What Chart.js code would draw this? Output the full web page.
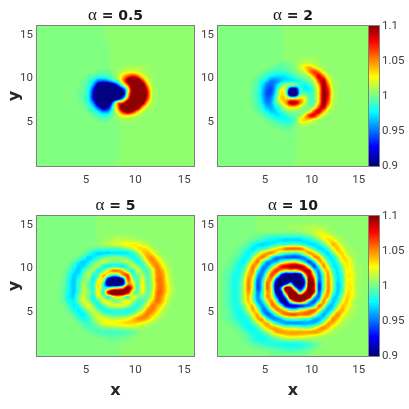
<!DOCTYPE html>
<html>
<head>
<meta charset="utf-8">
<title>alpha spirals</title>
<script src="https://cdn.jsdelivr.net/npm/chart.js@4/dist/chart.umd.min.js"></script>
<style>
  html, body { margin: 0; padding: 0; background: #fff; }
  canvas { position: absolute; left: 0; top: 0; }
</style>
</head>
<body>
<canvas id="p1" width="409" height="409"></canvas>
<canvas id="p2" width="409" height="409"></canvas>
<canvas id="p3" width="409" height="409"></canvas>
<canvas id="p4" width="409" height="409"></canvas>
<canvas id="cb1" width="409" height="409"></canvas>
<canvas id="cb2" width="409" height="409"></canvas>
<script>
// cell centres of the 32x32 grid, rows run top to bottom
const X_CENTERS = [.25,.75,1.25,1.75,2.25,2.75,3.25,3.75,4.25,4.75,5.25,5.75,6.25,6.75,7.25,7.75,8.25,8.75,9.25,9.75,10.25,10.75,11.25,11.75,12.25,12.75,13.25,13.75,14.25,14.75,15.25,15.75];
const Y_CENTERS = [15.75,15.25,14.75,14.25,13.75,13.25,12.75,12.25,11.75,11.25,10.75,10.25,9.75,9.25,8.75,8.25,7.75,7.25,6.75,6.25,5.75,5.25,4.75,4.25,3.75,3.25,2.75,2.25,1.75,1.25,.75,.25];
const AXIS_TICKS = [5, 10, 15];
const COLORBAR_TICKS = [0.9, 0.95, 1, 1.05, 1.1];
const TITLES = ["= 0.5", "= 2", "= 5", "= 10"];

// cell values, as (value - 1) * 100
const FIELD_05 = [
[0,0,0,0,0,0,0,0, 0,0,0,0,0,0,.4,.4, .4,.4,.4,.4,.4,.4,.4,.4, .4,.4,.4,.4,.4,.4,.4,.4],
[0,0,0,0,0,0,0,0, 0,0,0,0,0,0,.4,.4, .4,.4,.4,.4,.4,.4,.4,.4, .4,.4,.4,.4,.4,.4,.4,.4],
[0,0,0,0,0,0,0,0, 0,0,0,0,0,0,.4,.4, .4,.4,.4,.4,.4,.4,.4,.4, .4,.4,.4,.4,.4,.4,.4,.4],
[0,0,0,0,0,0,0,0, 0,0,0,0,0,0,.4,.4, .4,.4,.4,.4,.4,.4,.4,.4, .4,.4,.4,.4,.4,.4,.4,.4],
[0,0,0,0,0,0,0,0, 0,0,0,0,0,0,0,.4, .4,.4,.4,.4,.4,.4,.4,.4, .4,.4,.4,.4,.4,.4,.4,.4],
[0,0,0,0,0,0,0,0, 0,0,0,0,0,0,0,.4, .4,.4,.4,.4,.4,.4,.4,.4, .4,.4,.4,.4,.4,.4,.4,.4],
[0,0,0,0,0,0,0,0, 0,0,0,0,0,0,0,.4, .4,.4,.4,.4,.4,.4,.4,.4, .4,.4,.4,.4,.4,.4,.4,.4],
[0,0,0,0,0,0,0,0, 0,0,0,0,0,0,0,.4, .4,.4,.4,.4,.4,.4,.4,.4, .4,.4,.4,.4,.4,.4,.4,.4],
[0,0,0,0,0,0,0,0, 0,0,0,0,0,0,0,.4, .4,.4,.4,.4,.4,.4,.4,.4, .4,.4,.4,.4,.4,.4,.4,.4],
[0,0,0,0,0,0,0,0, 0,0,0,0,0,0,0,.4, .4,.7,.8,.9,.9,.8,.6,.4, .4,.4,.4,.4,.4,.4,.4,.4],
[0,0,0,0,0,0,0,0, 0,0,0,0,-.5,-.6,-.5,0, .6,1.2,2,2.3,1.8,1,.6,.4, .4,.4,.4,.4,.4,.4,.4,.4],
[0,0,0,0,0,0,0,0, 0,0,-.6,-1,-1.5,-1.5,-1,-.3, 1,3.5,6,7.5,6,2.5,1,.6, .4,.4,.4,.4,.4,.4,.4,.4],
[0,0,0,0,0,0,0,0, 0,-.4,-1,-2.5,-5,-5.5,-4.5,-2.5, 0,4,10,13,12,7,2,.8, .4,.4,.4,.4,.4,.4,.4,.4],
[0,0,0,0,0,0,0,0, 0,-.6,-1.5,-4.5,-10,-13,-12,-10, -6,0,6,13,14,12,4.5,1, .4,.4,.4,.4,.4,.4,.4,.4],
[0,0,0,0,0,0,0,0, -.3,-.7,-2,-7,-13,-14,-14,-14, -12,-8,1,11,14,14,7,1.2, .5,.4,.4,.4,.4,.4,.4,.4],
[0,0,0,0,0,0,0,0, -.3,-.8,-2.5,-8,-14,-14,-14,-14, -14,-11,2,11,14,14,8,1.3, .5,.4,.4,.4,.4,.4,.4,.4],
[0,0,0,0,0,0,0,0, -.3,-.8,-2.5,-8,-14,-14,-14,-14, -12,-5,5,13,14,14,7,1.2, .5,.4,.4,.4,.4,.4,.4,.4],
[0,0,0,0,0,0,0,0, -.2,-.6,-2,-5.5,-12,-14,-13,-5, 4,6,12,14,14,11,4,1, .4,.4,.4,.4,.4,.4,.4,.4],
[0,0,0,0,0,0,0,0, 0,-.3,-1.2,-3,-7,-11,-9,-1.5, 5,13,14,14,12,5,1.5,.6, .4,.4,.4,.4,.4,.4,.4,.4],
[0,0,0,0,0,0,0,0, 0,0,-.6,-1.5,-3,-5,-4.5,-.8, 3,8,11,8.5,4.5,1.5,.7,.4, .4,.4,.4,.4,.4,.4,.4,.4],
[0,0,0,0,0,0,0,0, 0,0,0,-.6,-1.2,-2,-1.5,-.3, 1,2.5,3,2,1,.6,.4,.4, .4,.4,.4,.4,.4,.4,.4,.4],
[0,0,0,0,0,0,0,0, 0,0,0,0,-.4,-.6,-.5,0, .4,.6,.8,.7,.5,.4,.4,.4, .4,.4,.4,.4,.4,.4,.4,.4],
[0,0,0,0,0,0,0,0, 0,0,0,0,0,0,0,0, 0,.4,.4,.4,.4,.4,.4,.4, .4,.4,.4,.4,.4,.4,.4,.4],
[0,0,0,0,0,0,0,0, 0,0,0,0,0,0,0,0, 0,.4,.4,.4,.4,.4,.4,.4, .4,.4,.4,.4,.4,.4,.4,.4],
[0,0,0,0,0,0,0,0, 0,0,0,0,0,0,0,0, 0,.4,.4,.4,.4,.4,.4,.4, .4,.4,.4,.4,.4,.4,.4,.4],
[0,0,0,0,0,0,0,0, 0,0,0,0,0,0,0,0, 0,.4,.4,.4,.4,.4,.4,.4, .4,.4,.4,.4,.4,.4,.4,.4],
[0,0,0,0,0,0,0,0, 0,0,0,0,0,0,0,0, 0,.4,.4,.4,.4,.4,.4,.4, .4,.4,.4,.4,.4,.4,.4,.4],
[0,0,0,0,0,0,0,0, 0,0,0,0,0,0,0,0, 0,.4,.4,.4,.4,.4,.4,.4, .4,.4,.4,.4,.4,.4,.4,.4],
[0,0,0,0,0,0,0,0, 0,0,0,0,0,0,0,0, 0,.4,.4,.4,.4,.4,.4,.4, .4,.4,.4,.4,.4,.4,.4,.4],
[0,0,0,0,0,0,0,0, 0,0,0,0,0,0,0,0, 0,.4,.4,.4,.4,.4,.4,.4, .4,.4,.4,.4,.4,.4,.4,.4],
[0,0,0,0,0,0,0,0, 0,0,0,0,0,0,0,0, .4,.4,.4,.4,.4,.4,.4,.4, .4,.4,.4,.4,.4,.4,.4,.4],
[0,0,0,0,0,0,0,0, 0,0,0,0,0,0,0,0, .4,.4,.4,.4,.4,.4,.4,.4, .4,.4,.4,.4,.4,.4,.4,.4]
];

const FIELD_2 = [
[0,0,0,0,0,0,0,0, 0,0,0,0,0,0,.4,.4, .4,.4,.4,.4,.4,.4,.4,.4, .4,.4,.4,.4,.4,.4,.4,.4],
[0,0,0,0,0,0,0,0, 0,0,0,0,0,0,.4,.4, .4,.4,.4,.4,.4,.4,.4,.4, .4,.4,.4,.4,.4,.4,.4,.4],
[0,0,0,0,0,0,0,0, 0,0,0,0,0,0,.4,.4, .4,.4,.4,.4,.4,.4,.4,.4, .4,.4,.4,.4,.4,.4,.4,.4],
[0,0,0,0,0,0,0,0, 0,0,0,0,0,0,.4,.4, .4,.4,.4,.4,.4,.4,.4,.4, .4,.4,.4,.4,.4,.4,.4,.4],
[0,0,0,0,0,0,0,0, 0,0,0,0,0,0,.4,.4, .4,.4,.4,.4,.4,.4,.4,.4, .4,.4,.4,.4,.4,.4,.4,.4],
[0,0,0,0,0,0,0,0, 0,0,0,0,0,0,.4,.4, .4,.4,.4,.4,.4,.4,.4,.4, .4,.4,.4,.4,.4,.4,.4,.4],
[0,0,0,0,0,0,0,0, 0,0,0,0,0,0,.4,.4, .4,.4,.4,.4,.4,.4,.4,.4, .4,.4,.4,.4,.4,.4,.4,.4],
[0,0,0,0,0,0,0,0, 0,0,0,0,0,0,.4,.4, .4,.6,.7,.8,.7,.5,.4,.4, .4,.4,.4,.4,.4,.4,.4,.4],
[0,0,0,0,0,0,0,0, 0,0,0,0,0,-.4,-.4,.1, .4,.8,1.4,1.3,.9,.6,.4,.4, .4,.4,.4,.4,.4,.4,.4,.4],
[0,0,0,0,0,0,0,0, 0,0,0,-.5,-.8,-.8,-.6,-.3, .3,1.5,3,4,3,1.4,.7,.4, .4,.4,.4,.4,.4,.4,.4,.4],
[0,0,0,0,0,0,0,0, 0,-.4,-.8,-1.2,-1.5,-1.5,-1.2,-.8, -.2,.5,1.5,4.5,6.5,5,1.8,.7, .4,.4,.4,.4,.4,.4,.4,.4],
[0,0,0,0,0,0,0,0, -.5,-1,-1.8,-2.8,-3,-3,-2.8,-2, -1,-.3,.2,1,4.5,8,5.5,1.5, .6,.4,.4,.4,.4,.4,.4,.4],
[0,0,0,0,0,0,0,-.4, -.9,-2,-3.5,-5,-4.5,-3.5,-2.8,-2.8, -2.5,-2,-1,0,1.5,6.5,9,3.5, .9,.4,.4,.4,.4,.4,.4,.4],
[0,0,0,0,0,0,0,-.5, -1.2,-3,-5,-5.5,-3.5,-.8,.8,.2, -.5,-1.5,-2.5,-1.5,.3,4,9.5,5.5, 1.2,.5,.4,.4,.4,.4,.4,.4],
[0,0,0,0,0,0,0,-.6, -1.4,-3.5,-5.8,-5.8,-2.5,2,.5,-10, -10,-2,-2.5,-2.5,-.2,3,9.5,7, 1.5,.6,.4,.4,.4,.4,.4,.4],
[0,0,0,0,0,0,0,-.7, -1.5,-3.8,-6,-5.5,-1.5,3,.5,-13, -13,-1.5,-.5,-1.5,-.5,3,9.5,7.5, 1.6,.6,.4,.4,.4,.4,.4,.4],
[0,0,0,0,0,0,0,-.7, -1.4,-3.5,-5.5,-4.5,-.5,3.5,3,1, 1,3,2,-1,-.6,3,9.5,7, 1.5,.6,.4,.4,.4,.4,.4,.4],
[0,0,0,0,0,0,0,-.5, -1.2,-3,-5,-3.8,-.6,2,4.5,9, 9,5.5,2,-.8,-.4,3.5,9.5,6, 1.3,.5,.4,.4,.4,.4,.4,.4],
[0,0,0,0,0,0,0,-.4, -.9,-2.2,-4,-4,-2,-.2,2,3.5, 3.5,1.5,.3,-.2,.6,6,9,3.5, .9,.4,.4,.4,.4,.4,.4,.4],
[0,0,0,0,0,0,0,0, -.6,-1.4,-2.6,-3.5,-3,-1.5,-.3,.3, .3,.1,.3,1.5,6,8.5,4.5,1.2, .6,.4,.4,.4,.4,.4,.4,.4],
[0,0,0,0,0,0,0,0, 0,-.7,-1.4,-2.2,-2.8,-2.6,-1.8,-1, -.5,.2,3,7,7.5,4,1.2,.6, .4,.4,.4,.4,.4,.4,.4,.4],
[0,0,0,0,0,0,0,0, 0,0,-.6,-1,-1.5,-2,-2.2,-1.8, -.6,2.5,3.5,3,1.6,.8,.4,.4, .4,.4,.4,.4,.4,.4,.4,.4],
[0,0,0,0,0,0,0,0, 0,0,0,-.4,-.7,-1,-1.2,-1, -.2,.8,1,.8,.6,.4,.4,.4, .4,.4,.4,.4,.4,.4,.4,.4],
[0,0,0,0,0,0,0,0, 0,0,0,0,0,-.4,-.5,-.4, 0,.4,.4,.4,.4,.4,.4,.4, .4,.4,.4,.4,.4,.4,.4,.4],
[0,0,0,0,0,0,0,0, 0,0,0,0,0,0,0,0, 0,.4,.4,.4,.4,.4,.4,.4, .4,.4,.4,.4,.4,.4,.4,.4],
[0,0,0,0,0,0,0,0, 0,0,0,0,0,0,0,0, 0,.4,.4,.4,.4,.4,.4,.4, .4,.4,.4,.4,.4,.4,.4,.4],
[0,0,0,0,0,0,0,0, 0,0,0,0,0,0,0,0, 0,.4,.4,.4,.4,.4,.4,.4, .4,.4,.4,.4,.4,.4,.4,.4],
[0,0,0,0,0,0,0,0, 0,0,0,0,0,0,0,0, 0,.4,.4,.4,.4,.4,.4,.4, .4,.4,.4,.4,.4,.4,.4,.4],
[0,0,0,0,0,0,0,0, 0,0,0,0,0,0,0,0, 0,.4,.4,.4,.4,.4,.4,.4, .4,.4,.4,.4,.4,.4,.4,.4],
[0,0,0,0,0,0,0,0, 0,0,0,0,0,0,0,0, 0,.4,.4,.4,.4,.4,.4,.4, .4,.4,.4,.4,.4,.4,.4,.4],
[0,0,0,0,0,0,0,0, 0,0,0,0,0,0,0,0, .4,.4,.4,.4,.4,.4,.4,.4, .4,.4,.4,.4,.4,.4,.4,.4],
[0,0,0,0,0,0,0,0, 0,0,0,0,0,0,0,0, .4,.4,.4,.4,.4,.4,.4,.4, .4,.4,.4,.4,.4,.4,.4,.4]
];

const FIELD_5 = [
[0,0,0,0,0,0,0,0, 0,0,0,0,.4,.4,.4,.4, .4,.4,.4,.4,.4,.4,.4,.4, .4,.4,.4,.4,.4,.4,.4,.4],
[0,0,0,0,0,0,0,0, 0,0,0,0,.4,.4,.4,.4, .4,.4,.4,.4,.4,.4,.4,.4, .4,.4,.4,.4,.4,.4,.4,.4],
[0,0,0,0,0,0,0,0, 0,0,0,0,.4,.4,.4,.4, .4,.4,.4,.4,.4,.4,.4,.4, .4,.4,.4,.4,.4,.4,.4,.4],
[0,0,0,0,0,0,0,0, 0,0,0,0,.4,.4,.4,.4, .4,.4,.4,.4,.4,.4,.4,.4, .4,.4,.4,.4,.4,.4,.4,.4],
[0,0,0,0,0,0,0,0, 0,0,0,0,.4,.4,.4,.5, .6,.6,.5,.5,.4,.4,.4,.4, .4,.4,.4,.4,.4,.4,.4,.4],
[0,0,0,0,0,0,0,0, 0,0,0,0,.4,.5,.7,1, 1.5,1.3,1.2,1,.9,.7,.5,.4, .4,.4,.4,.4,.4,.4,.4,.4],
[0,0,0,0,0,0,0,0, 0,0,0,0,.2,.5,1,1.5, 1.5,2.2,2.6,2.8,2.4,1.7,1,.6, .4,.4,.4,.4,.4,.4,.4,.4],
[0,0,0,0,0,0,0,0, 0,0,-.3,-.6,-.9,-.9,-1.2,-1, -1,-.5,.2,1.2,2.8,3.3,2.7,1.3, .6,.4,.4,.4,.4,.4,.4,.4],
[0,0,0,0,0,0,0,0, 0,-.4,-1.4,-2.5,-3.2,-3.2,-3,-2.8, -2.8,-3,-2.7,-1.6,.3,2.8,4,2.6, 1,.5,.4,.4,.4,.4,.4,.4],
[0,0,0,0,0,0,0,-.1, -.5,-1.7,-3.2,-2.8,-1.8,-.8,-.2,.2, .2,-.2,-1,-2.2,-1.5,1,4,4.5, 2.6,1,.5,.4,.4,.4,.4,.4],
[0,0,0,0,0,0,-.2,-.8, -2.4,-3.4,-2.7,-1.2,.2,1.3,.6,-.3, -.3,.6,1.2,-.3,-2,-1,2.5,4.8, 4,2,.8,.4,.4,.4,.4,.4],
[0,0,0,0,0,0,-.5,-1.9, -3.2,-3,-1.4,.7,.6,-1.8,-2.7,-1.8, -2,-2.7,-1,1.5,.1,-1.5,.3,3.5, 5,3,1.2,.5,.4,.4,.4,.4],
[0,0,0,0,0,-.2,-1,-2.6, -3.4,-1.6,.3,.3,-2.3,-.5,2.5,5, 5,3.5,-.5,-2,1.7,-.2,-1.2,1.5, 5,4.2,1.8,.6,.4,.4,.4,.4],
[0,0,0,0,0,-.3,-1.5,-3.3, -2.7,-.5,1.1,-1.8,-.8,3.8,1.5,-2, -1,4.5,6,-1,-.5,1,-1,1.5, 4.8,4.7,2.2,.7,.4,.4,.4,.4],
[0,0,0,0,-.1,-.5,-2,-3.5, -1.8,-.3,.3,-2.7,1.5,2,-9,-13, -13,-8,6,1,-1,2,-1,1.2, 5,5,2.4,.8,.4,.4,.4,.4],
[0,0,0,0,-.1,-.6,-2.2,-3.5, -1.4,.8,-.6,-1.8,3,-1.5,-11,-13, -13,-9,4,3,-1.5,2.7,-.8,.8, 4.7,5,2.8,.9,.4,.4,.4,.4],
[0,0,0,0,0,-.6,-2.2,-3.5, -1.4,1,-.5,-1.8,3,-1.5,-1,2, 3,5,11,5,-1.5,2.8,-.6,1, 4.8,5.2,3,1,.4,.4,.4,.4],
[0,0,0,0,0,-.8,-2.4,-3.4, -1.2,1,.4,-1.5,2.8,-1.5,8,13, 13,12,9,1,-.8,2,-.6,1.5, 5.2,5.2,2.8,1,.4,.4,.4,.4],
[0,0,0,0,-.2,-1,-2.6,-3, -.3,1.7,-.2,-2.2,1.8,.3,-2.2,1.5, 3,2,-1.5,2,.6,-.2,-.6,2, 5.3,4.5,2,.7,.4,.4,.4,.4],
[0,0,0,0,-.2,-.7,-2,-2.6, -.3,1.8,.7,-1.8,-1.2,2,2,.4, 0,1.2,2.8,1,-1,-1.2,.7,3.5, 5.3,4,1.7,.6,.4,.4,.4,.4],
[0,0,0,0,0,-.3,-1.3,-2.7, -1.7,.5,2,0,-2.2,-1,1.2,1.7, 1.8,2,.8,-1,-2,-.2,2.3,5, 4.3,2.8,1,.4,.4,.4,.4,.4],
[0,0,0,0,0,0,-.7,-1.8, -2.7,-1.2,.6,1.5,-.5,-2,-2.2,-1.6, -1.5,-1.6,-2.1,-1.9,-.4,1.3,4.5,5, 3.5,1.6,.6,.4,.4,.4,.4,.4],
[0,0,0,0,0,0,-.2,-1, -2.2,-2.7,-.8,.9,1.3,0,-.9,-1.2, -1.2,-1.4,-.8,.2,2,4,5,4, 2.2,1,.5,.4,.4,.4,.4,.4],
[0,0,0,0,0,0,0,-.4, -1.3,-2.2,-1.5,.2,1.6,2,1.5,1, 1.2,1.6,2.2,3.3,4.5,4.8,4,2.4, 1,.5,.4,.4,.4,.4,.4,.4],
[0,0,0,0,0,0,0,0, -.4,-1.1,-1.3,-.6,.6,2,2.5,2.6, 2.8,3,3.3,3.3,3,2.4,1.6,.9, .5,.4,.4,.4,.4,.4,.4,.4],
[0,0,0,0,0,0,0,0, -.1,-.6,-1,-.9,-.5,0,.3,.5, .6,.9,1.1,1.1,1,.8,.6,.4, .4,.4,.4,.4,.4,.4,.4,.4],
[0,0,0,0,0,0,0,0, 0,-.1,-.4,-.7,-1,-1.2,-1.2,-1.3, -1.2,-1.1,-.8,-.5,-.1,.4,.4,.4, .4,.4,.4,.4,.4,.4,.4,.4],
[0,0,0,0,0,0,0,0, 0,0,0,-.2,-.4,-.5,-.6,-.7, -.6,-.5,-.3,-.1,.4,.4,.4,.4, .4,.4,.4,.4,.4,.4,.4,.4],
[0,0,0,0,0,0,0,0, 0,0,0,0,0,0,-.1,-.3, -.2,-.1,0,.4,.4,.4,.4,.4, .4,.4,.4,.4,.4,.4,.4,.4],
[0,0,0,0,0,0,0,0, 0,0,0,0,0,0,0,0, 0,.4,.4,.4,.4,.4,.4,.4, .4,.4,.4,.4,.4,.4,.4,.4],
[0,0,0,0,0,0,0,0, 0,0,0,0,0,0,0,0, 0,.4,.4,.4,.4,.4,.4,.4, .4,.4,.4,.4,.4,.4,.4,.4],
[0,0,0,0,0,0,0,0, 0,0,0,0,0,0,0,0, 0,.4,.4,.4,.4,.4,.4,.4, .4,.4,.4,.4,.4,.4,.4,.4]
];

const FIELD_10 = [
[0,0,0,0,0,0,0,0, .4,.4,.4,.4,.4,.4,.4,.4, .4,.4,.4,.4,.4,.4,.4,.4, .4,.4,.4,.4,.4,.4,.4,.4],
[0,0,0,0,0,0,0,0, .4,.4,.4,.4,.4,.4,.4,.4, .4,.4,.4,.4,.4,.4,.4,.4, .4,.4,.4,.4,.4,.4,.4,.4],
[0,0,0,0,0,0,0,0, .4,.4,.4,.4,.4,.4,.4,.6, .7,.7,.8,.9,1,1,.8,.6, .4,.4,.4,.4,.4,.4,.4,.4],
[0,0,0,0,0,0,0,0, .2,.2,.2,.2,.2,.2,.2,.2, .2,.4,.7,1,1.3,1.7,1.4,.8, .5,.4,.4,.4,.4,.4,.4,.4],
[0,0,0,0,0,0,-.1,-.2, -.4,-.7,-.9,-1.1,-1.2,-1.2,-1.2,-1.2, -1.2,-1,-.7,-.2,.6,1.8,2.5,2.3, 1.2,.7,.5,.4,.4,.4,.4,.4],
[0,0,0,0,0,-.1,-.3,-.6, -1,-1.5,-2.2,-2.5,-2.7,-3,-3.1,-3.2, -3.2,-3.1,-2.6,-2.1,-1.4,0,1.5,3, 2.8,1.4,.7,.4,.4,.4,.4,.4],
[0,0,0,0,-.1,-.4,-.9,-2, -2.8,-3.2,-3,-2.5,-1.8,-1.2,-1.2,-.7, -.6,-1.2,-2,-3,-3,-2.3,-.8,1.5, 3.8,3,1.2,.6,.4,.4,.4,.4],
[0,0,0,-.1,-.4,-.9,-1.9,-3, -2,-1.5,-.5,1.5,3,3.8,5.2,5.5, 5.5,5.3,3.5,1,-1.3,-3,-2.8,-1.2, 2,3.7,2.3,.9,.6,.4,.4,.4],
[0,0,-.1,-.3,-.7,-1.6,-2.6,-1.6, .5,3,4.5,4.5,2.5,.3,-1,-1.5, -2,-.8,2.5,4.5,3.5,.5,-2.3,-3, -.5,2.5,3.3,1.5,.7,.5,.4,.4],
[0,-.1,-.2,-.5,-1.2,-2.3,-2.2,.6, 3.8,4.8,2.5,-2.5,-5,-5,-5.5,-5.5, -5.5,-5.5,-4.5,-1,4,4.5,.5,-2.5, -2.5,.2,3,2.8,1,.6,.4,.4],
[0,-.1,-.3,-.9,-2,-2.6,-.5,3, 5,0,-4.5,-4.5,-3.5,-.5,1.5,2.5, 3,.5,-3,-6,-3,3.5,3.5,-.7, -2.7,-1.5,2,3,1.8,.6,.4,.4],
[0,-.3,-.6,-1.2,-2.2,-1.5,1.5,5, 2.2,-3.9,-4.5,-1,3,7,8,9, 9.5,9,6.5,-.5,-6,-1.5,4.5,1.5, -2.5,-2.5,0,2.8,2,.7,.5,.4],
[-.1,-.4,-.8,-1.7,-2.3,-.7,2.8,4.8, -1.5,-5.2,-2,4,6.7,4,2,3, 2,4.5,8.5,8.5,-1.5,-4.5,2,3.5, -1.2,-2.7,-.5,2.3,2.2,.8,.5,.4],
[-.1,-.5,-1,-2.1,-2,.2,4,3.5, -4,-4.5,1.5,6.3,2,-7,-12,-12, -12,-11,2,9,3,-5,-.5,4.4, -.3,-2.9,-1.2,2.5,2.5,1,.5,.4],
[-.1,-.6,-1.2,-2.2,-1.6,.8,4.7,2, -5.5,-3,4,4,-7,-12,-13,-13, -13,-13,-5,11,6,-5,-1,4.5, .5,-3,-1.4,2.2,2.5,1.1,.5,.4],
[-.1,-.6,-1.2,-2.2,-1.5,1,5,1, -6,-2,5.5,1,-11,-13,-8,-2, -12,-13,-6,12,8,-6.5,-1,4.8, .6,-3.3,-1.6,2.5,2.6,1,.5,.4],
[-.1,-.6,-1.2,-2.2,-1.5,1,5,1, -6,-2,5.5,1,-11,-4,11,9, -2,-9,-2,13,8,-6.5,-1,4.8, .6,-3.3,-1.6,2.5,2.7,1,.5,.4],
[-.1,-.6,-1.2,-2.2,-1.3,1.2,4.5,.5, -5,-1.5,4.2,2,-9,-8,6,13, 9,-1,7,13,7,-6,.5,4.8, -.2,-3.5,-.8,2.8,2.6,1.1,.5,.4],
[-.1,-.6,-1.2,-2.1,-1.5,1,3.8,-.5, -4.5,-1,4.5,2.5,-5,-9.5,-3,12, 13,13,13,10,-2,-5.5,3,3.8, -2.5,-3,.5,3.3,2.5,1,.5,.4],
[-.1,-.6,-1.2,-2,-1.5,1.2,3.5,.5, -4.2,-3,2.5,4.8,-.5,-8.5,-9,1, 7,8,5,-2.5,-6,-1.5,4.7,.5, -3.5,-2,1.8,3.5,1.5,.7,.4,.4],
[-.1,-.6,-1.1,-1.9,-1.9,-.3,2.5,3.5, -2,-4.5,-1,4.8,4,-1,-8,-8, -8,-7,-6,-5,-2,5,3,-3, -3.3,0,3.5,3,1.5,.7,.4,.4],
[-.1,-.4,-.9,-1.8,-2.2,-1,1.5,4, 1,-4.5,-4,.5,4.7,4.5,2.2,-1, -1,1.5,2.5,4.5,5.5,3,-2,-4, -1.8,2.5,4,2.2,1,.6,.4,.4],
[-.1,-.4,-.9,-1.6,-2.2,-2,-.4,2.7, 4,-2,-5.4,-4,-.5,3.5,5.3,6, 6,5,5.5,5,2.5,-1.5,-4,-2, 2,4.8,3,1.5,.8,.5,.4,.4],
[-.1,-.3,-.7,-1.2,-2,-2.3,-1.5,.8, 4,4,-1.5,-4.3,-4.7,-3.5,-1,-.5, -.5,-.5,-1,-1.5,-3.5,-4,-2.5,1, 4.6,3.8,1.8,1,.6,.4,.4,.4],
[0,-.1,-.4,-.8,-1.4,-2.2,-2.2,-1, 1.2,3.5,4,1,-2,-3.5,-4.5,-4.5, -4.5,-4.5,-4.2,-4,-3.8,-2.2,1,4.2, 4,2.2,1,.6,.4,.4,.4,.4],
[0,0,-.1,-.4,-.8,-1.6,-2.4,-2.2, -.7,1.2,3.5,4.2,3.8,2.3,1,.8, .5,0,-.5,0,1,3.3,4.8,3.8, 2,1,.6,.4,.4,.4,.4,.4],
[0,0,0,-.1,-.4,-.9,-1.6,-2.3, -2,-.8,.5,2.5,4.2,4.4,4.3,4.3, 4.3,4.3,4.2,4.3,4.5,4.2,3,1.6, .9,.6,.4,.4,.4,.4,.4,.4],
[0,0,0,0,-.1,-.4,-.9,-1.6, -2.3,-2.1,-1.4,-.3,.8,1.8,2.7,3, 3,2.7,2.5,2,1.6,1.2,.8,.5, .4,.4,.4,.4,.4,.4,.4,.4],
[0,0,0,0,-.1,-.3,-.8,-1.4, -2,-2.2,-2,-1.6,-1.2,-.8,-.6,-.5, -.5,-.4,-.3,-.1,.2,.4,.4,.4, .4,.4,.4,.4,.4,.4,.4,.4],
[0,0,0,0,0,-.1,-.3,-.6, -.9,-1.2,-1.5,-1.8,-2,-2.1,-2.2,-2.2, -2.2,-2,-1.7,-1.3,-.8,-.3,.4,.4, .4,.4,.4,.4,.4,.4,.4,.4],
[0,0,0,0,0,0,0,-.1, -.2,-.3,-.5,-.7,-.9,-1.1,-1.3,-1.4, -1.4,-1.2,-.9,-.6,-.3,.4,.4,.4, .4,.4,.4,.4,.4,.4,.4,.4],
[0,0,0,0,0,0,0,0, 0,0,-.1,-.2,-.2,-.3,-.4,-.4, -.4,-.3,-.2,-.1,.4,.4,.4,.4, .4,.4,.4,.4,.4,.4,.4,.4]
];

(() => {
  // ============================================================
  // Settings
  // ============================================================
  const TICK_COLOR = "#404040";
  const BOX_COLOR = "#808080";
  const TICK_FONT = { family: '"Roboto", sans-serif', size: 11.5 };
  const LABEL_FONT = { family: '"DejaVu Sans", sans-serif', size: 16, weight: "bold" };
  const PAGE = 409;
  const LEFT_GUTTER = 37;
  const X_GUTTER = 44;
  const LEVELS = 64;

  // ============================================================
  // Colours (64 step jet)
  // ============================================================
  const clamp01 = (n) => Math.max(0, Math.min(1, n));
  const jetIndex = (i) => {
    const u = i / LEVELS;
    return [
      Math.round(255 * clamp01(1.5 - Math.abs(4 * u - 3))),
      Math.round(255 * clamp01(1.5 - Math.abs(4 * u - 2))),
      Math.round(255 * clamp01(1.5 - Math.abs(4 * u - 1)))
    ];
  };
  // the small nudge keeps 0 from flipping a level on tiny undershoot of the shading
  const jetForDeviation = (d) => {
    const i = Math.max(0, Math.min(LEVELS - 1, Math.floor((d + 0.15 + 10) / 20 * LEVELS)));
    return jetIndex(i);
  };

  // Catmull-Rom weights, the grid is shaded smoothly like an interpolated pcolor
  const cubic = (t) => [
    -0.5 * t * t * t + t * t - 0.5 * t,
    1.5 * t * t * t - 2.5 * t * t + 1,
    -1.5 * t * t * t + 2 * t * t + 0.5 * t,
    0.5 * t * t * t - 0.5 * t * t
  ];

  // ============================================================
  // Plugins
  // ============================================================
  const shading = {
    id: "shading",
    beforeDatasetsDraw(chart) {
      const { ctx, chartArea: a, scales } = chart;
      const pts = chart.data.datasets[0].data;
      const n = X_CENTERS.length;
      const w = Math.round(a.right - a.left);
      const h = Math.round(a.bottom - a.top);
      const img = ctx.createImageData(w, h);

      const at = (r, c) => pts[Math.min(n - 1, Math.max(0, r)) * n + Math.min(n - 1, Math.max(0, c))].v;

      for (let py = 0; py < h; py++) {
        const fr = (Y_CENTERS[0] - scales.y.getValueForPixel(a.top + py + 0.5)) / (Y_CENTERS[0] - Y_CENTERS[1]);
        const r0 = Math.floor(fr);
        const wr = cubic(fr - r0);
        for (let px = 0; px < w; px++) {
          const fc = (scales.x.getValueForPixel(a.left + px + 0.5) - X_CENTERS[0]) / (X_CENTERS[1] - X_CENTERS[0]);
          const c0 = Math.floor(fc);
          const wc = cubic(fc - c0);
          let v = 0;
          for (let i = 0; i < 4; i++) {
            for (let j = 0; j < 4; j++) v += wr[i] * wc[j] * at(r0 + i - 1, c0 + j - 1);
          }
          const [cr, cg, cb] = jetForDeviation(v);
          const k = (py * w + px) * 4;
          img.data[k] = cr; img.data[k + 1] = cg; img.data[k + 2] = cb; img.data[k + 3] = 255;
        }
      }
      const off = document.createElement("canvas");
      off.width = w; off.height = h;
      off.getContext("2d").putImageData(img, 0, 0);
      ctx.drawImage(off, a.left, a.top);
    }
  };

  const box = {
    id: "box",
    afterDraw(chart) {
      const { ctx, chartArea: a } = chart;
      ctx.save();
      ctx.strokeStyle = BOX_COLOR;
      ctx.lineWidth = 1;
      ctx.strokeRect(Math.round(a.left) - 0.5, Math.round(a.top) - 0.5, Math.round(a.right - a.left) + 1, Math.round(a.bottom - a.top) + 1);
      ctx.restore();
    }
  };

  const panelTitle = {
    id: "panelTitle",
    afterDraw(chart, args, opts) {
      const { ctx, chartArea: a } = chart;
      const greek = '17px "Liberation Serif", serif';
      const rest = 'bold 14px "DejaVu Sans", sans-serif';
      const text = " " + opts.text;
      ctx.save();
      ctx.fillStyle = "#1a1a1a";
      ctx.textBaseline = "alphabetic";
      ctx.textAlign = "left";
      ctx.font = greek;
      const wa = ctx.measureText("α").width;
      ctx.font = rest;
      const wb = ctx.measureText(text).width;
      const x0 = (a.left + a.right) / 2 - (wa + wb) / 2;
      ctx.font = greek;
      ctx.fillText("α", x0, a.top - 6);
      ctx.font = rest;
      ctx.fillText(text, x0 + wa, a.top - 6);
      ctx.restore();
    }
  };

  // ============================================================
  // Charts
  // ============================================================
  function heatPanel(id, rect, field, title, showX, showY) {
    const points = [];
    Y_CENTERS.forEach((y, r) => X_CENTERS.forEach((x, c) => points.push({ x, y, v: field[r][c] })));

    new Chart(document.getElementById(id), {
      type: "scatter",
      data: { datasets: [{ data: points, pointRadius: 0, pointHoverRadius: 0 }] },
      plugins: [shading, box, panelTitle],
      options: {
        responsive: false,
        animation: false,
        events: [],
        layout: { padding: {
          left: rect.left - LEFT_GUTTER,
          top: rect.top,
          right: PAGE - rect.right,
          bottom: PAGE - rect.bottom - X_GUTTER
        } },
        plugins: { legend: { display: false }, tooltip: { enabled: false }, panelTitle: { text: title } },
        scales: {
          x: {
            type: "linear", min: 0, max: 16,
            grid: { display: false, drawTicks: false }, border: { display: false },
            afterBuildTicks: (s) => { s.ticks = AXIS_TICKS.map(value => ({ value })); },
            afterFit: (s) => { s.height = X_GUTTER; },
            ticks: { color: TICK_COLOR, font: TICK_FONT, maxRotation: 0, padding: 7 },
            title: { display: showX, text: "x", color: "#262626", font: LABEL_FONT, padding: { top: 0, bottom: 0 } }
          },
          y: {
            type: "linear", min: 0, max: 16,
            grid: { display: false, drawTicks: false }, border: { display: false },
            afterBuildTicks: (s) => { s.ticks = AXIS_TICKS.map(value => ({ value })); },
            afterFit: (s) => { s.width = LEFT_GUTTER; },
            ticks: { color: TICK_COLOR, font: TICK_FONT, padding: 4 },
            title: { display: showY, text: "y", color: "#262626", font: LABEL_FONT, padding: { top: 5, bottom: 0 } }
          }
        }
      }
    });
  }

  function colorbar(id, rect) {
    const span = (COLORBAR_TICKS[4] - COLORBAR_TICKS[0]) / LEVELS;
    const datasets = [];
    for (let i = 0; i < LEVELS; i++) {
      const [r, g, b] = jetIndex(i);
      datasets.push({
        data: [[COLORBAR_TICKS[0] + i * span, COLORBAR_TICKS[0] + (i + 1) * span + 0.0004]],
        backgroundColor: `rgb(${r},${g},${b})`,
        borderWidth: 0,
        barPercentage: 1,
        categoryPercentage: 1
      });
    }

    new Chart(document.getElementById(id), {
      type: "bar",
      data: { labels: ["c"], datasets },
      plugins: [box],
      options: {
        responsive: false,
        animation: false,
        events: [],
        layout: { padding: { left: rect.left, top: rect.top, right: 0, bottom: PAGE - rect.bottom } },
        plugins: { legend: { display: false }, tooltip: { enabled: false } },
        scales: {
          x: { display: false, stacked: true },
          y: {
            position: "right",
            min: COLORBAR_TICKS[0], max: COLORBAR_TICKS[4],
            grid: { display: false, drawTicks: false }, border: { display: false },
            afterBuildTicks: (s) => { s.ticks = COLORBAR_TICKS.map(value => ({ value })); },
            afterFit: (s) => { s.width = PAGE - rect.right; },
            ticks: { color: TICK_COLOR, font: TICK_FONT, padding: 3, callback: (v) => String(v) }
          }
        }
      }
    });
  }

  // ============================================================
  // Init
  // ============================================================
  heatPanel("p1", { left: 37, right: 194, top: 26, bottom: 166 }, FIELD_05, TITLES[0], false, true);
  heatPanel("p2", { left: 218, right: 368, top: 26, bottom: 166 }, FIELD_2, TITLES[1], false, false);
  heatPanel("p3", { left: 37, right: 194, top: 216, bottom: 356 }, FIELD_5, TITLES[2], true, true);
  heatPanel("p4", { left: 218, right: 368, top: 216, bottom: 356 }, FIELD_10, TITLES[3], true, false);
  colorbar("cb1", { left: 369, right: 379, top: 26, bottom: 166 });
  colorbar("cb2", { left: 369, right: 379, top: 216, bottom: 356 });
})();
</script>
</body>
</html>
